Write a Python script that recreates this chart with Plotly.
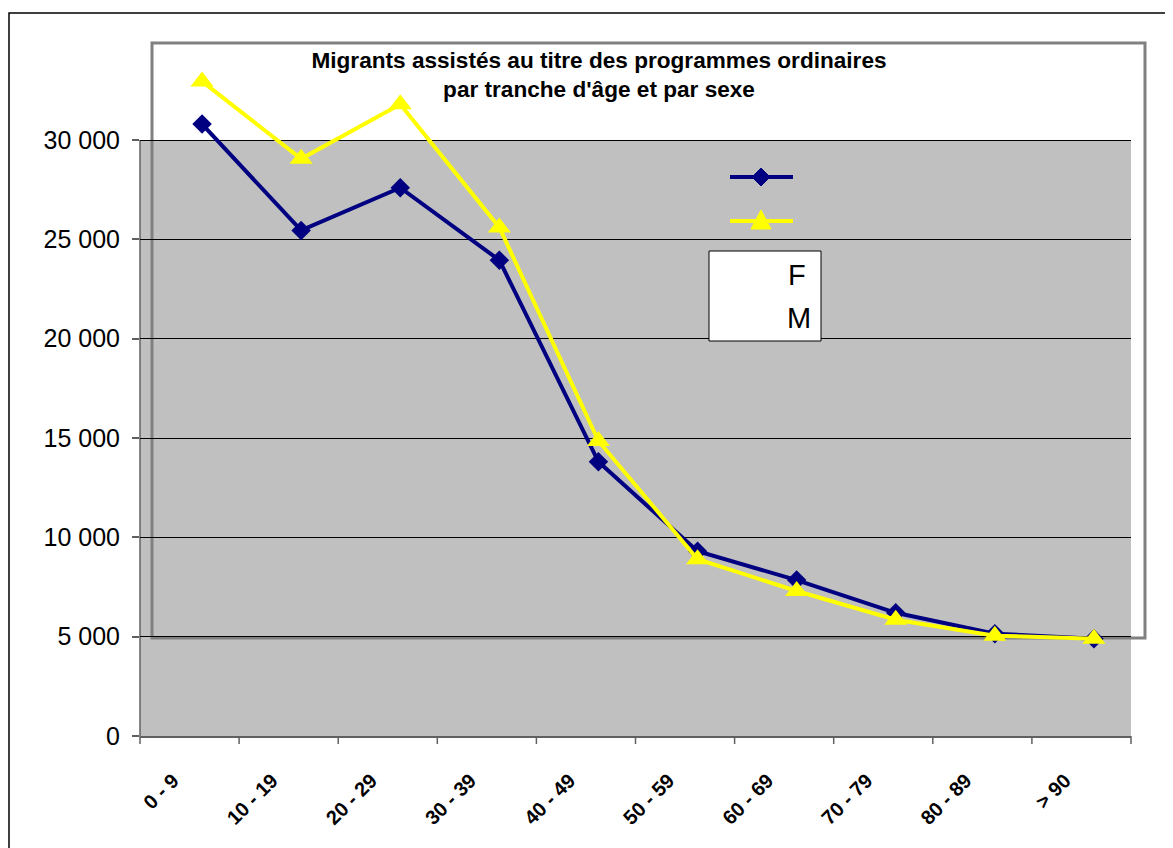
import plotly.graph_objects as go

# ---- data ----
age_groups = ["0 - 9", "10 - 19", "20 - 29", "30 - 39", "40 - 49",
              "50 - 59", "60 - 69", "70 - 79", "80 - 89", "> 90"]
femmes = [30800, 25450, 27600, 23950, 13800, 9300, 7850, 6200, 5150, 4900]
hommes = [32950, 29050, 31800, 25600, 14850, 8900, 7300, 5850, 5050, 4900]
y_ticks = [0, 5000, 10000, 15000, 20000, 25000, 30000]
y_tick_labels = ["0", "5 000", "10 000", "15 000", "20 000", "25 000", "30 000"]
series_names = ["F", "M"]
title_text = "Migrants assistés au titre des programmes ordinaires<br>par tranche d'âge et par sexe"

# ---- layout helpers (window pixel -> paper), page body has an 8px margin ----
W, H = 1173, 848
OFF = 8
def xp(x):
    return (x - OFF) / W
def yp(y):
    return (H - (y - OFF)) / H

NAVY = "#000080"
YELLOW = "#FFFF00"
FONT = "Liberation Sans, Arial, sans-serif"

y_top_val = 30000 * (736 - 13) / (736 - 140)
n = len(age_groups)
x_left, x_right = 140, 1131
cat_px = (x_right - x_left) / n
shift = 12.5 / cat_px

fig = go.Figure()
fig.add_trace(go.Scatter(
    x=age_groups, y=femmes, name=series_names[0],
    mode="lines+markers", line=dict(color=NAVY, width=4),
    marker=dict(symbol="diamond", size=15, color=NAVY), showlegend=False))
fig.add_trace(go.Scatter(
    x=age_groups, y=hommes, name=series_names[1],
    mode="lines+markers", line=dict(color=YELLOW, width=4),
    marker=dict(symbol="triangle-up", size=20, color=YELLOW), showlegend=False))

shapes = [
    # outer chart border
    dict(type="rect", xref="paper", yref="paper", x0=xp(9), x1=1.05, y0=-0.05, y1=yp(13),
         line=dict(color="black", width=1.5), fillcolor="rgba(0,0,0,0)", layer="below"),
    # gray plot area
    dict(type="rect", xref="paper", yref="y", x0=xp(x_left), x1=xp(x_right), y0=0, y1=30000,
         line=dict(width=0), fillcolor="#C0C0C0", layer="below"),
    # inner frame
    dict(type="rect", xref="paper", yref="paper", x0=xp(152), x1=xp(1145), y0=yp(638), y1=yp(43),
         line=dict(color="#808080", width=3), fillcolor="rgba(0,0,0,0)", layer="between"),
    # y axis line
    dict(type="line", xref="paper", yref="y", x0=xp(x_left), x1=xp(x_left), y0=0, y1=30000,
         line=dict(color="#606060", width=1.5), layer="between"),
    # legend key lines
    dict(type="line", xref="paper", yref="paper", x0=xp(730), x1=xp(793), y0=yp(177), y1=yp(177),
         line=dict(color=NAVY, width=4), layer="above"),
    dict(type="line", xref="paper", yref="paper", x0=xp(730), x1=xp(793), y0=yp(221), y1=yp(221),
         line=dict(color=YELLOW, width=4), layer="above"),
    # legend key markers
    dict(type="path", xref="paper", yref="paper",
         path=f"M {xp(761)},{yp(168)} L {xp(770)},{yp(177)} L {xp(761)},{yp(186)} L {xp(752)},{yp(177)} Z",
         fillcolor=NAVY, line=dict(color=NAVY, width=1), layer="above"),
    dict(type="path", xref="paper", yref="paper",
         path=f"M {xp(761)},{yp(210)} L {xp(771)},{yp(229)} L {xp(751)},{yp(229)} Z",
         fillcolor=YELLOW, line=dict(color=YELLOW, width=1), layer="above"),
    # legend text box
    dict(type="rect", xref="paper", yref="paper", x0=xp(709), x1=xp(821), y0=yp(341), y1=yp(251),
         line=dict(color="black", width=1), fillcolor="white", layer="above"),
]
# category boundary tick marks below the x axis
for k in range(n + 1):
    xx = x_left + k * cat_px
    shapes.append(dict(type="line", xref="paper", yref="paper", x0=xp(xx), x1=xp(xx),
                       y0=yp(736), y1=yp(744), line=dict(color="#606060", width=1.5),
                       layer="above"))

annotations = [
    dict(text=series_names[0], xref="paper", yref="paper", x=xp(786), y=yp(275),
         xanchor="left", yanchor="middle", showarrow=False,
         font=dict(family=FONT, size=29, color="black")),
    dict(text=series_names[1], xref="paper", yref="paper", x=xp(785), y=yp(318),
         xanchor="left", yanchor="middle", showarrow=False,
         font=dict(family=FONT, size=29, color="black")),
]

fig.update_layout(
    width=W, height=H,
    margin=dict(l=0, r=0, t=0, b=0, autoexpand=False),
    paper_bgcolor="white", plot_bgcolor="rgba(0,0,0,0)",
    showlegend=False,
    font=dict(family=FONT, color="black"),
    title=dict(text=title_text, x=xp(599), xanchor="center", y=yp(68), yanchor="top",
               font=dict(family=FONT, size=22.6, color="black", weight="bold")),
    xaxis=dict(type="category", categoryorder="array", categoryarray=age_groups,
               domain=[xp(x_left), xp(x_right)], range=[-0.5 - shift, n - 0.5 - shift], anchor="y",
               automargin=False,
               showgrid=False, zeroline=False, showline=True, linecolor="#606060", linewidth=2,
               ticks="", tickangle=-45, ticklabelstandoff=23, ticklabelshift=-29,
               tickfont=dict(family=FONT, size=20, color="black", weight="bold")),
    yaxis=dict(domain=[yp(736), yp(13)], range=[0, y_top_val], anchor="x",
               automargin=False,
               tickmode="array", tickvals=y_ticks, ticktext=y_tick_labels,
               showgrid=True, gridcolor="black", gridwidth=1, zeroline=False, showline=False,
               ticks="outside", ticklen=7, tickcolor="#606060", tickwidth=1.5,
               ticklabelstandoff=7,
               tickfont=dict(family=FONT, size=25, color="black")),
    shapes=shapes,
    annotations=annotations,
)

fig.write_html("out.html")
